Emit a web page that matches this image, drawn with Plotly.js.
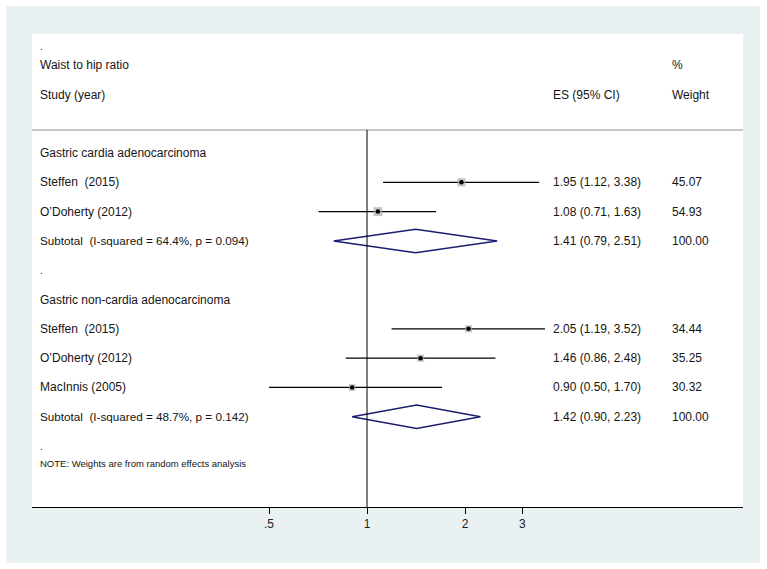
<!DOCTYPE html>
<html>
<head>
<meta charset="utf-8">
<script src="https://cdn.plot.ly/plotly-3.0.1.min.js"></script>
<style>html,body{margin:0;padding:0;background:#fff;}#chart{width:767px;height:569px;}</style>
</head>
<body>
<div id="chart"></div>
<script>
// ---- data ----
var groupNames = ["Gastric cardia adenocarcinoma", "Gastric non-cardia adenocarcinoma"];
var studyNames = ["Steffen\u00a0 (2015)", "O\u2019Doherty (2012)", "Steffen\u00a0 (2015)", "O\u2019Doherty (2012)", "MacInnis (2005)"];
var studyGroup = [0, 0, 1, 1, 1];
var studyES = [1.95, 1.08, 2.05, 1.46, 0.90];
var studyLo = [1.12, 0.71, 1.19, 0.86, 0.50];
var studyHi = [3.38, 1.63, 3.52, 2.48, 1.70];
var studyWeight = [45.07, 54.93, 34.44, 35.25, 30.32];
var subES = [1.41, 1.42];
var subLo = [0.79, 0.90];
var subHi = [2.51, 2.23];
var subI2 = ["64.4", "48.7"];
var subP = ["0.094", "0.142"];
var tickVals = [0.5, 1, 2, 3];
var tickLabels = [".5", "1", "2", "3"];

// ---- layout of rows ----
var FONT = "Liberation Sans, Arial, Helvetica, sans-serif";
var TXT = "#151515";
var colLeft = 0.0085, colES = 0.7302, colW = 0.8972;
var annotations = [];
function txt(x, y, s, size) {
  annotations.push({xref: "paper", yref: "y", x: x, y: y, text: s, showarrow: false,
    xanchor: "left", yanchor: "middle", font: {family: FONT, size: size || 12, color: TXT}});
}
var fmt = function (v) { return v.toFixed(2); };

var rowOfStudy = [], rowOfSub = [];
var r = 0;
for (var g = 0; g < groupNames.length; g++) {
  txt(colLeft, r, groupNames[g]);
  r++;
  for (var i = 0; i < studyNames.length; i++) {
    if (studyGroup[i] !== g) continue;
    rowOfStudy[i] = r;
    txt(colLeft, r, studyNames[i]);
    txt(colES, r, fmt(studyES[i]) + " (" + fmt(studyLo[i]) + ", " + fmt(studyHi[i]) + ")");
    txt(colW, r, fmt(studyWeight[i]));
    r++;
  }
  rowOfSub[g] = r;
  txt(colLeft, r, "Subtotal\u00a0 (I-squared = " + subI2[g] + "%, p = " + subP[g] + ")", 11.7);
  txt(colES, r, fmt(subES[g]) + " (" + fmt(subLo[g]) + ", " + fmt(subHi[g]) + ")");
  txt(colW, r, "100.00");
  r++;
  txt(colLeft, r, ".", 10);
  r++;
}
txt(colLeft, r - 1 + 0.58, "NOTE: Weights are from random effects analysis", 9.5);

// header
txt(colLeft, -3.62, ".", 10);
txt(colLeft, -3.0, "Waist to hip ratio");
txt(colW, -3.0, "%");
txt(colLeft, -1.98, "Study (year)");
txt(colES, -1.98, "ES (95% CI)");
txt(colW, -1.98, "Weight");

// ---- traces ----
var ciX = [], ciY = [];
for (var i = 0; i < studyES.length; i++) {
  ciX.push(studyLo[i], studyHi[i], null);
  ciY.push(rowOfStudy[i], rowOfStudy[i], null);
}
var traces = [];
traces.push({type: "scatter", mode: "lines", x: ciX, y: ciY, line: {color: "#000", width: 1.3},
  hoverinfo: "skip", showlegend: false});
traces.push({type: "scatter", mode: "markers", x: studyES, y: rowOfStudy,
  marker: {symbol: "square", color: "#adadad", size: studyWeight.map(function (w) { return 1.2 * Math.sqrt(w); }), line: {width: 0}},
  showlegend: false, hoverinfo: "skip"});
traces.push({type: "scatter", mode: "markers", x: studyES, y: rowOfStudy,
  marker: {symbol: "circle", color: "#000", size: 4.5, line: {width: 0}},
  showlegend: false, hoverinfo: "skip"});
var dX = [], dY = [];
var h = 0.4;
for (var g = 0; g < subES.length; g++) {
  var rr = rowOfSub[g];
  dX.push(subLo[g], subES[g], subHi[g], subES[g], subLo[g], null);
  dY.push(rr, rr - h, rr, rr + h, rr, null);
}
traces.push({type: "scatter", mode: "lines", x: dX, y: dY, line: {color: "#1c1c72", width: 1.5},
  showlegend: false, hoverinfo: "skip"});

// ---- layout ----
var layout = {
  width: 767, height: 569,
  margin: {l: 32, r: 24, t: 34, b: 62},
  paper_bgcolor: "#ffffff",
  plot_bgcolor: "rgba(0,0,0,0)",
  showlegend: false,
  xaxis: {
    type: "log", range: [-1.029, 1.1548], fixedrange: true,
    tickmode: "array", tickvals: tickVals, ticktext: tickLabels,
    ticks: "outside", ticklen: 6, tickwidth: 1, tickcolor: "#000",
    showline: true, linecolor: "#000", linewidth: 1,
    showgrid: false, zeroline: false,
    tickfont: {family: FONT, size: 12, color: "#222"}
  },
  yaxis: {
    range: [12.08, -4.06], fixedrange: true,
    showticklabels: false, showgrid: false, zeroline: false, showline: false, ticks: ""
  },
  shapes: [
    {type: "rect", xref: "paper", yref: "paper", x0: -26 / 711, x1: 1 + 17 / 711, y0: -56 / 473, y1: 1 + 28 / 473,
      fillcolor: "#e9f1f3", line: {width: 0}, layer: "below"},
    {type: "rect", xref: "paper", yref: "paper", x0: 0, x1: 1, y0: 0, y1: 1,
      fillcolor: "#ffffff", line: {width: 0}, layer: "below"},
    {type: "line", xref: "paper", yref: "y", x0: 0, x1: 1, y0: -0.785, y1: -0.785,
      line: {color: "#c8c8c8", width: 2}},
    {type: "line", xref: "x", yref: "paper", x0: 1, x1: 1, y0: 0, y1: (12.08 + 0.785) / (12.08 + 4.06),
      line: {color: "#000", width: 1}}
  ],
  annotations: annotations
};

Plotly.newPlot("chart", traces, layout, {displayModeBar: false, staticPlot: true});
</script>
</body>
</html>
